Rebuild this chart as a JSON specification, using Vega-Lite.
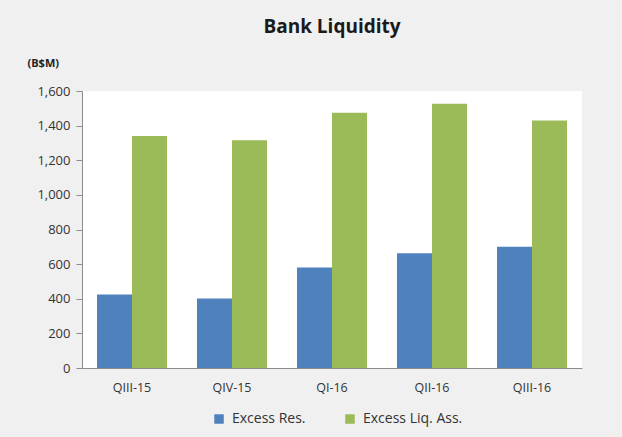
{
  "$schema": "https://vega.github.io/schema/vega-lite/v6.json",
  "autosize": {"type": "none"},
  "width": 500,
  "height": 277,
  "padding": {"left": 82, "top": 91, "right": 40, "bottom": 69},
  "background": "#f0f0f0",
  "title": {
    "text": "Bank Liquidity",
    "anchor": "middle",
    "frame": "group",
    "offset": 20,
    "font": "Open Sans",
    "fontSize": 19,
    "fontWeight": "bold",
    "color": "#1a1a1a"
  },
  "data": {
    "values": [
      {"quarter": "QIII-15", "series": "Excess Res.", "value": 424},
      {"quarter": "QIII-15", "series": "Excess Liq. Ass.", "value": 1340},
      {"quarter": "QIV-15", "series": "Excess Res.", "value": 401},
      {"quarter": "QIV-15", "series": "Excess Liq. Ass.", "value": 1316},
      {"quarter": "QI-16", "series": "Excess Res.", "value": 580},
      {"quarter": "QI-16", "series": "Excess Liq. Ass.", "value": 1475},
      {"quarter": "QII-16", "series": "Excess Res.", "value": 663},
      {"quarter": "QII-16", "series": "Excess Liq. Ass.", "value": 1527},
      {"quarter": "QIII-16", "series": "Excess Res.", "value": 700},
      {"quarter": "QIII-16", "series": "Excess Liq. Ass.", "value": 1429}
    ]
  },
  "mark": {"type": "bar"},
  "encoding": {
    "x": {
      "field": "quarter",
      "type": "nominal",
      "sort": ["QIII-15", "QIV-15", "QI-16", "QII-16", "QIII-16"],
      "scale": {"paddingInner": 0.3, "paddingOuter": 0.15},
      "axis": {
        "title": null,
        "labelAngle": 0,
        "ticks": false,
        "labelPadding": 13,
        "labelFont": "Open Sans",
        "labelFontSize": 12.5,
        "labelColor": "#333333",
        "domainColor": "#8c8c8c"
      }
    },
    "xOffset": {
      "field": "series",
      "type": "nominal",
      "sort": ["Excess Res.", "Excess Liq. Ass."],
      "scale": {"paddingInner": 0, "paddingOuter": 0}
    },
    "y": {
      "field": "value",
      "type": "quantitative",
      "scale": {"domain": [0, 1600]},
      "axis": {
        "title": "(B$M)",
        "titleAngle": 0,
        "titleAlign": "left",
        "titleBaseline": "middle",
        "titleX": -55,
        "titleY": -28,
        "titleFont": "Open Sans",
        "titleFontSize": 11,
        "titleFontWeight": "bold",
        "titleColor": "#222222",
        "values": [0, 200, 400, 600, 800, 1000, 1200, 1400, 1600],
        "format": ",d",
        "grid": false,
        "tickSize": 6,
        "tickColor": "#8c8c8c",
        "domainColor": "#8c8c8c",
        "labelPadding": 6,
        "labelFont": "Open Sans",
        "labelFontSize": 13,
        "labelColor": "#333333"
      }
    },
    "color": {
      "field": "series",
      "type": "nominal",
      "sort": ["Excess Res.", "Excess Liq. Ass."],
      "scale": {"domain": ["Excess Res.", "Excess Liq. Ass."], "range": ["#4f81bd", "#9bbb59"]},
      "legend": {
        "title": null,
        "orient": "none",
        "direction": "horizontal",
        "legendX": 130,
        "legendY": 321,
        "symbolType": "square",
        "symbolSize": 90,
        "symbolStrokeWidth": 0,
        "symbolOpacity": 1,
        "labelFont": "Open Sans",
        "labelFontSize": 14,
        "labelColor": "#333333",
        "columnPadding": 37,
        "labelOffset": 6
      }
    }
  },
  "config": {
    "view": {"fill": "#ffffff", "stroke": null}
  }
}
